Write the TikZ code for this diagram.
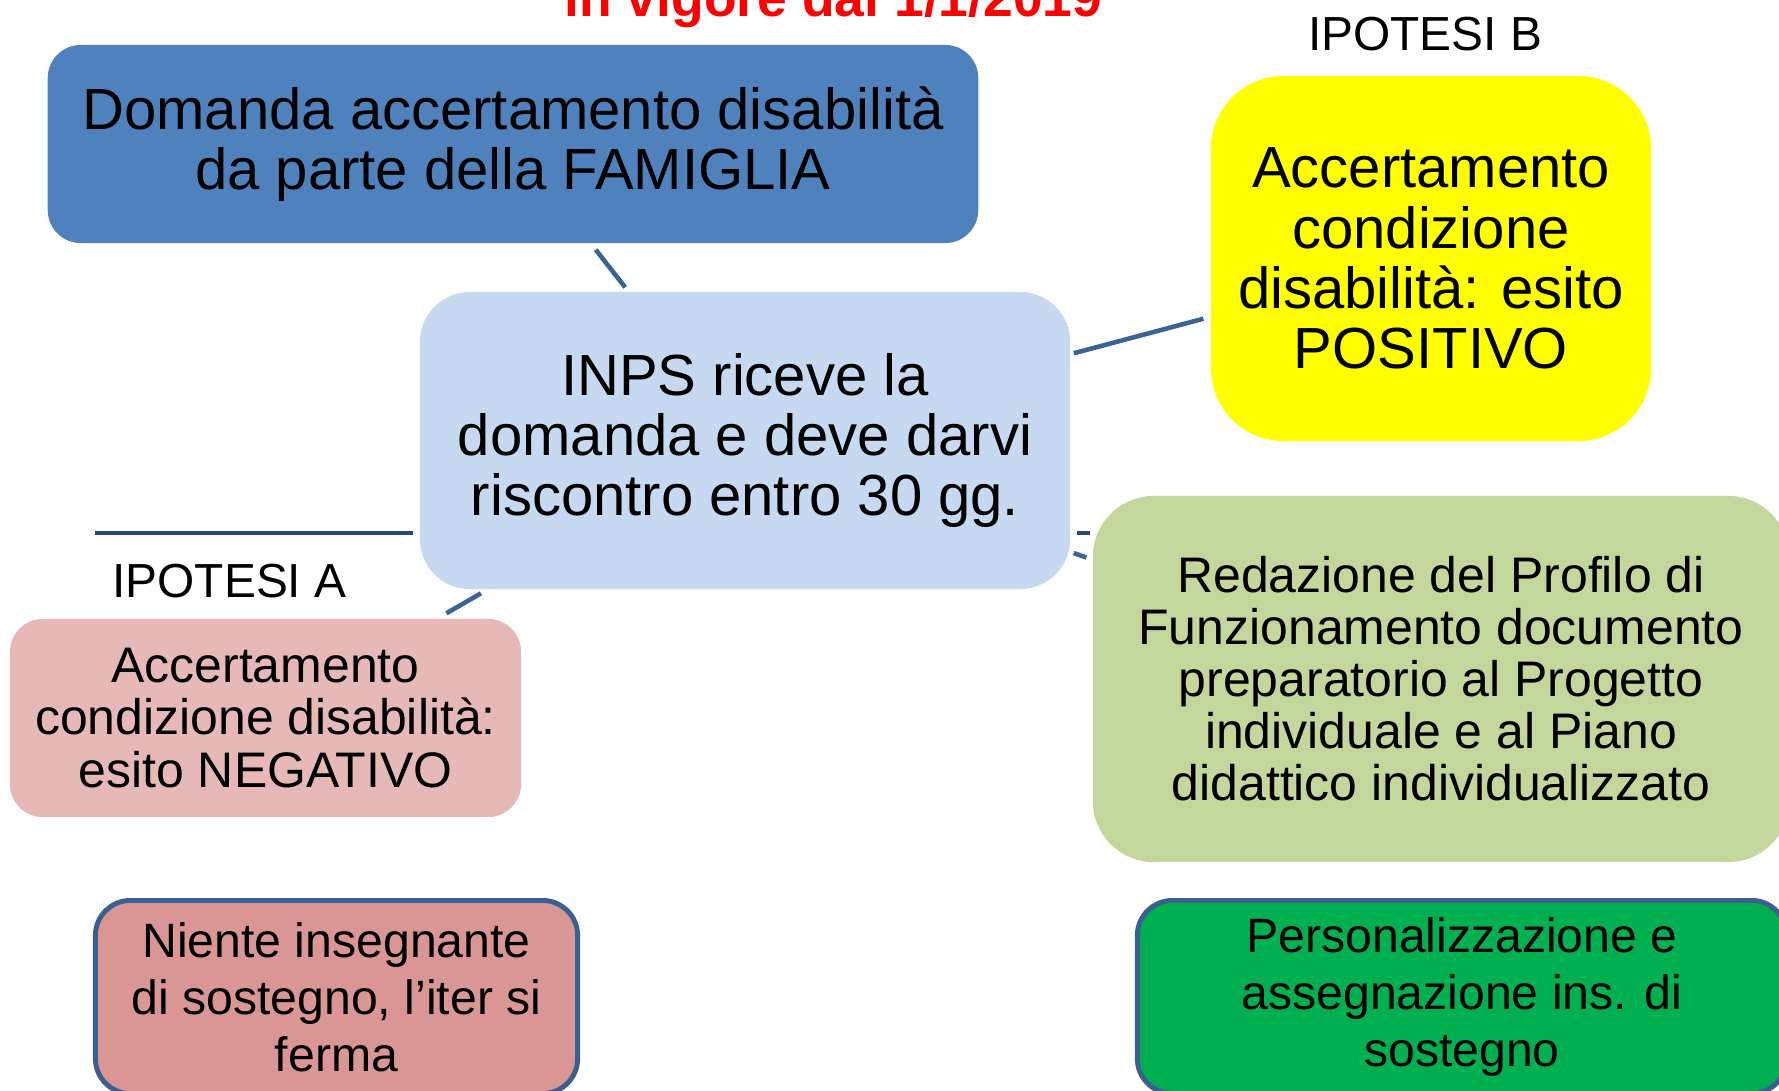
\documentclass[tikz,border=0pt]{standalone}
\usepackage{fontspec}
\setmainfont{Liberation Sans}
\usetikzlibrary{calc}

\definecolor{famblue}{HTML}{4F81BD}
\definecolor{inpsblue}{HTML}{C6D9F1}
\definecolor{posyellow}{HTML}{FFFF00}
\definecolor{negpink}{HTML}{E6B9B8}
\definecolor{redgreen}{HTML}{C3D69B}
\definecolor{stopred}{HTML}{D99694}
\definecolor{gogreen}{HTML}{00B050}
\definecolor{edgeblue}{HTML}{3B5F8E}
\definecolor{connblue}{HTML}{3A6496}
\definecolor{linenavy}{HTML}{24497A}

\newcommand{\titletext}{\fontsize{15.2}{16}\selectfont\bfseries}
\newcommand{\bigtext}{\fontsize{16.5}{17.1}\selectfont}
\newcommand{\midtext}{\fontsize{14.2}{14.8}\selectfont}
\newcommand{\lowtext}{\fontsize{13.7}{16.2}\selectfont}
\newcommand{\tagtext}{\fontsize{13.6}{15}\selectfont}

\tikzset{
  box/.style={rectangle, rounded corners=#1, align=center, inner sep=0pt},
  endbox/.style={box=0.35cm, draw=edgeblue, line width=1.4pt, font=\lowtext},
  conn/.style={draw=connblue, line width=1.3pt},
}

\begin{document}
\begin{tikzpicture}[x=0.01cm,y=-0.01cm]
  \clip (0,0) rectangle (1779,1090);
  \fill[white] (0,0) rectangle (1779,1090);

  % title, cut by the top edge
  \node[red,font=\titletext,anchor=base] (title) at (833.5,16) {in vigore dal 1/1/2019};

  \node[box=0.33cm,fill=famblue,minimum width=9.3cm,minimum height=1.98cm,font=\bigtext]
    (famiglia) at (513,144) {Domanda accertamento disabilità\\da parte della FAMIGLIA};
  \node[box=0.5cm,fill=inpsblue,minimum width=6.5cm,minimum height=2.97cm,font=\bigtext]
    (inps) at (745,440.5) {INPS riceve la\\domanda e deve darvi\\riscontro entro 30 gg.};
  \node[box=0.73cm,fill=posyellow,minimum width=4.4cm,minimum height=3.65cm,font=\bigtext]
    (positivo) at (1431,258.5) {Accertamento\\condizione\\disabilità: esito\\POSITIVO};
  \node[box=0.33cm,fill=negpink,minimum width=5.11cm,minimum height=1.98cm,font=\midtext]
    (negativo) at (265.5,718) {Accertamento\\condizione disabilità:\\esito NEGATIVO};
  \node[box=0.61cm,fill=redgreen,minimum width=6.96cm,minimum height=3.66cm,font=\midtext]
    (redazione) at (1441,679) {Redazione del Profilo di\\Funzionamento documento\\preparatorio al Progetto\\individuale e al Piano\\didattico individualizzato};

  \node[endbox,fill=stopred,minimum width=4.82cm,minimum height=1.93cm]
    (niente) at (336.5,997) {Niente insegnante\\di sostegno, l’iter si\\ferma};
  \node[endbox,fill=gogreen,minimum width=6.49cm,minimum height=1.93cm]
    (sostegno) at (1462,997) {Personalizzazione e\\assegnazione ins. di\\sostegno};

  \node[font=\tagtext] (ipotesiB) at (1425,34) {IPOTESI B};
  \node[font=\tagtext] (ipotesiA) at (229.5,581) {IPOTESI A};

  % connectors
  \draw[conn,shorten <=0.075cm,shorten >=0.05cm] (famiglia) -- (inps);
  \draw[conn,shorten <=0.03cm,shorten >=0.07cm] (inps) -- (positivo);
  \draw[conn,shorten <=0.03cm,shorten >=0.06cm] (inps) -- (redazione);
  \draw[conn,shorten <=0.07cm,shorten >=0.1cm] (inps) -- (negativo);

  \coordinate (hlineA) at (95,533);
  \draw[conn,draw=linenavy,shorten >=0.06cm] (hlineA) -- (hlineA -| inps.west);
  \draw[conn,draw=linenavy,shorten <=0.06cm,shorten >=0.02cm] (inps.east |- hlineA) -- (redazione.west |- hlineA);
\end{tikzpicture}
\end{document}
